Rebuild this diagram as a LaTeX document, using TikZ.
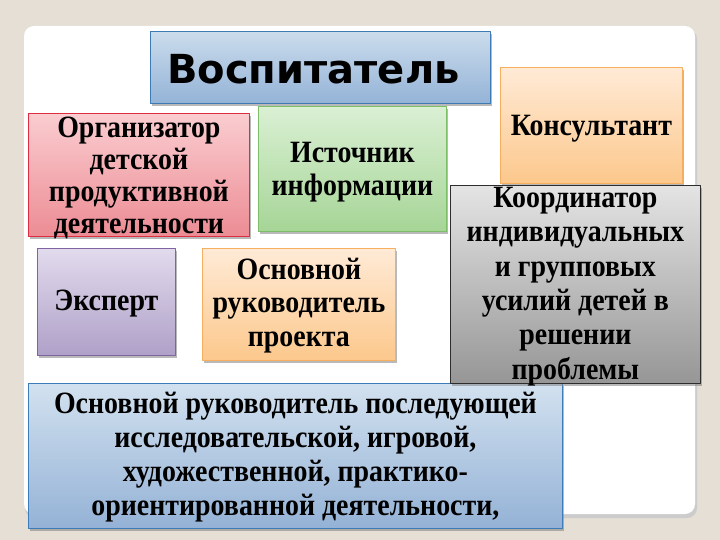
\documentclass[tikz,border=0pt]{standalone}
\usepackage{fontspec}
\setmainfont{Liberation Serif}
\newfontfamily\cardfont[FakeStretch=0.9]{Liberation Serif}
\newfontfamily\titlefont{DejaVu Sans}
\usetikzlibrary{shadows}
\definecolor{pagebg}{RGB}{229,223,213}
\tikzset{
  card/.style={draw, line width=0.8pt, anchor=north west, inner sep=0pt,
    drop shadow={shadow xshift=1.5pt, shadow yshift=-2.5pt, fill=black!50, opacity=.55}},
  cardtext/.style={align=center, inner sep=0pt,
    font=\cardfont\fontsize{31}{#1}\selectfont\bfseries},
  cardtext/.default=33,
  ttl/.style={top color={rgb,255:red,203;green,220;blue,236}, bottom color={rgb,255:red,148;green,179;blue,215}, draw={rgb,255:red,62;green,122;blue,180}},
  red/.style={top color={rgb,255:red,250;green,205;blue,208}, bottom color={rgb,255:red,236;green,140;blue,148}, draw={rgb,255:red,220;green,45;blue,65}},
  grn/.style={top color={rgb,255:red,218;green,240;blue,212}, bottom color={rgb,255:red,166;green,213;blue,150}, draw={rgb,255:red,125;green,190;blue,105}},
  org/.style={top color={rgb,255:red,255;green,234;blue,214}, bottom color={rgb,255:red,252;green,200;blue,140}, draw={rgb,255:red,245;green,175;blue,95}},
  gry/.style={top color={rgb,255:red,228;green,228;blue,228}, bottom color={rgb,255:red,150;green,150;blue,150}, draw={rgb,255:red,45;green,45;blue,45}},
  ppl/.style={top color={rgb,255:red,226;green,219;blue,237}, bottom color={rgb,255:red,175;green,160;blue,200}, draw={rgb,255:red,128;green,100;blue,162}},
  blu/.style={top color={rgb,255:red,210;green,225;blue,239}, bottom color={rgb,255:red,148;green,178;blue,214}, draw={rgb,255:red,60;green,125;blue,185}},
}
\begin{document}
\begin{tikzpicture}[x=1pt,y=-1pt,line join=round]
\useasboundingbox (0,0) rectangle (720,540);
\fill[pagebg] (0,0) rectangle (720,540);
% white slide panel
\fill[black!20, rounded corners=10pt] (25,29) rectangle (697,518);
\fill[white, rounded corners=10pt] (24,26) rectangle (695,514);
% boxes
\foreach \n/\x/\y/\w/\h/\c in {title/150/31/340/72/ttl, orgz/28/113/221/123/red,
  ist/258/106/188/125/grn, kons/500/67/182/116/org, ruk/28/383/534/145/blu,
  koord/450/185/250/198/gry, eksp/37/248/138/107/ppl, osn/202/248/193/112/org}
  \node[card,\c,minimum width=\w,minimum height=\h] (\n) at (\x,\y) {};
% texts
\node[inner sep=0pt,font=\titlefont\fontsize{40}{42}\selectfont\bfseries] (title-t) at ([xshift=-7pt,yshift=-2pt]title.center) {Воспитатель};
\node[cardtext=32] (orgz-t) at ([yshift=-3pt]orgz.center) {Организатор\\детской\\продуктивной\\деятельности};
\node[cardtext] (ist-t) at ([yshift=-3.5pt]ist.center) {Источник\\информации};
\node[cardtext] (kons-t) at ([yshift=-3pt]kons.center) {Консультант};
\node[cardtext=34.5] (koord-t) at ([yshift=-2pt]koord.center) {Координатор\\индивидуальных\\и групповых\\усилий детей в\\решении\\проблемы};
\node[cardtext] (eksp-t) at ([yshift=-2pt]eksp.center) {Эксперт};
\node[cardtext=33.5] (osn-t) at ([yshift=-1pt]osn.center) {Основной\\руководитель\\проекта};
\node[cardtext=34] (ruk-t) at ([yshift=-1.5pt]ruk.center) {Основной руководитель последующей\\исследовательской, игровой,\\художественной, практико-\\ориентированной деятельности,};
\end{tikzpicture}
\end{document}
